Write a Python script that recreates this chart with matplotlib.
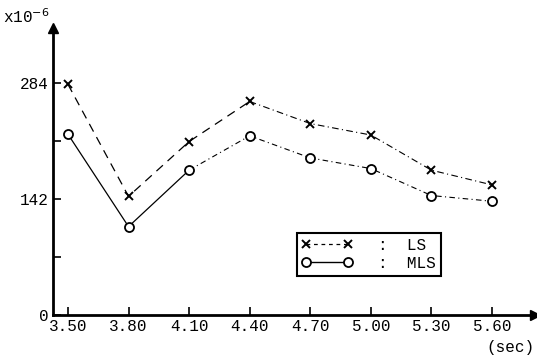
import matplotlib
matplotlib.use("Agg")
import matplotlib.pyplot as plt
from matplotlib.lines import Line2D

# Sampling period (sec) and error values (x10^-6)
periods = [3.50, 3.80, 4.10, 4.40, 4.70, 5.00, 5.30, 5.60]
tick_labels = ["3.50", "3.80", "4.10", "4.40", "4.70", "5.00", "5.30", "5.60"]
ls_values = [282, 145, 212, 261, 234, 220, 177, 159]
mls_values = [221, 108, 177, 219, 192, 179, 146, 139]
ytick_values = [0, 71, 142, 213, 284]
ytick_labels = ["0", "", "142", "", "284"]

plt.rcParams["font.family"] = ["Liberation Mono", "DejaVu Sans Mono"]

fig = plt.figure(figsize=(5.37, 3.62), dpi=100)
ax = fig.add_axes([0.0987, 0.130, 0.8976, 0.793])
ax.set_xlim(3.426, 5.813)
ax.set_ylim(0, 351)

# LS: long dashes on the first segments, dash-dot afterwards
ax.plot(periods[:4], ls_values[:4], color="black", lw=0.9, ls=(0, (7, 5)))
ax.plot(periods[3:], ls_values[3:], color="black", lw=0.8, ls=(0, (6, 3, 1, 3)))
ax.plot(periods, ls_values, ls="none", marker="x", ms=6, mew=1.4, color="black")

# MLS: solid on the first segments, dash-dot afterwards
ax.plot(periods[:3], mls_values[:3], color="black", lw=0.9, ls="-")
ax.plot(periods[2:], mls_values[2:], color="black", lw=0.8, ls=(0, (5, 3, 1, 3)))
ax.plot(periods, mls_values, ls="none", marker="o", ms=6.5, mfc="white",
        mec="black", mew=1.3, color="black")

for s in ["top", "right"]:
    ax.spines[s].set_visible(False)
ax.spines["left"].set_linewidth(2)
ax.spines["bottom"].set_linewidth(2)
ax.plot(1, 0, ">k", ms=7, transform=ax.transAxes, clip_on=False)
ax.plot(0, 1, "^k", ms=7, transform=ax.transAxes, clip_on=False)

ax.set_xticks(periods)
ax.set_xticklabels(tick_labels)
ax.set_yticks(ytick_values)
ax.set_yticklabels(ytick_labels)
ax.tick_params(axis="both", direction="in", length=6, width=1.2,
               labelsize=11.5, colors="black")
ax.tick_params(axis="x", pad=3)
ax.tick_params(axis="y", pad=3)

fig.text(0.005, 0.955, r"x10$^{-6}$", fontsize=11.5, va="center", ha="left")
fig.text(0.995, 0.02, "(sec)", fontsize=11.5, ha="right", va="bottom")

handles = [
    Line2D([], [], color="black", lw=0.9, ls=(0, (3, 3)), marker="x", ms=6, mew=1.4),
    Line2D([], [], color="black", lw=1.0, ls="-", marker="o", ms=6.5,
           mfc="white", mec="black", mew=1.3),
]
leg = ax.legend(handles, [":  LS", ":  MLS"], loc="upper left",
                bbox_to_anchor=(0.506, 0.286), borderaxespad=0,
                fancybox=False, edgecolor="black", framealpha=1,
                fontsize=11.5, handlelength=3.2, handletextpad=1.6,
                labelspacing=0.2, borderpad=0.3, numpoints=2)
leg.get_frame().set_linewidth(1.5)

fig.savefig("out.png", dpi=100)
